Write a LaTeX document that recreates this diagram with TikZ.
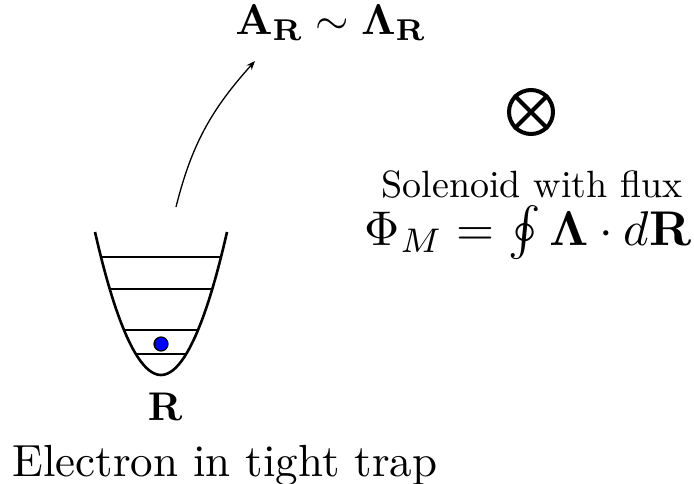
\documentclass[tikz,border=0pt]{standalone}
\usepackage{graphicx}
\usepackage{amsmath}
\usetikzlibrary{arrows.meta}
\begin{document}
\begin{tikzpicture}[x=1pt,y=1pt,
  lbl/.style={inner sep=0pt,anchor=base},
  levelline/.style={line width=1.6pt},
  trapwall/.style={line width=2.6pt},
  conn/.style={line width=1.3pt,-{Stealth[length=9pt,width=7pt]}}]
\useasboundingbox (0,0) rectangle (694,-483);
% title
\node[lbl] (title) at (331,-34) {\scalebox{4.3}{$\mathbf{A}_{\mathbf{R}}\sim\mathbf{\Lambda}_{\mathbf{R}}$}};
% solenoid symbol
\node[draw,circle,line width=4pt,minimum size=44pt,inner sep=0pt] (sol) at (531,-112) {};
\draw[line width=4pt] (sol.north west) -- (sol.south east);
\draw[line width=4pt] (sol.north east) -- (sol.south west);
\node[lbl] (soltext) at (532,-197) {\scalebox{3.8}{Solenoid with flux}};
\node[lbl] (flux) at (528,-245) {\scalebox{4.88}{$\Phi_M=\oint\mathbf{\Lambda}\cdot d\mathbf{R}$}};
% trap
\draw[trapwall] (95,-232) parabola bend (161,-375) (227,-232);
\draw[levelline] (101,-257) -- (221,-257);
\draw[levelline] (110,-289) -- (212,-289);
\draw[levelline] (124,-330) -- (198,-330);
\draw[levelline] (136,-354) -- (186,-354);
\node[circle,draw,line width=1.2pt,fill=blue,minimum size=14pt,inner sep=0pt] (electron) at (161,-344) {};
\node[lbl] (rlabel) at (165,-420) {\scalebox{4}{$\mathbf{R}$}};
\node[lbl] (caption) at (225,-476) {\scalebox{4.5}{Electron in tight trap}};
% arrow
\coordinate (astart) at (176,-207);
\coordinate (aend) at (255,-61);
\draw[conn] (astart) to[out=76,in=228] (aend);
\end{tikzpicture}
\end{document}
